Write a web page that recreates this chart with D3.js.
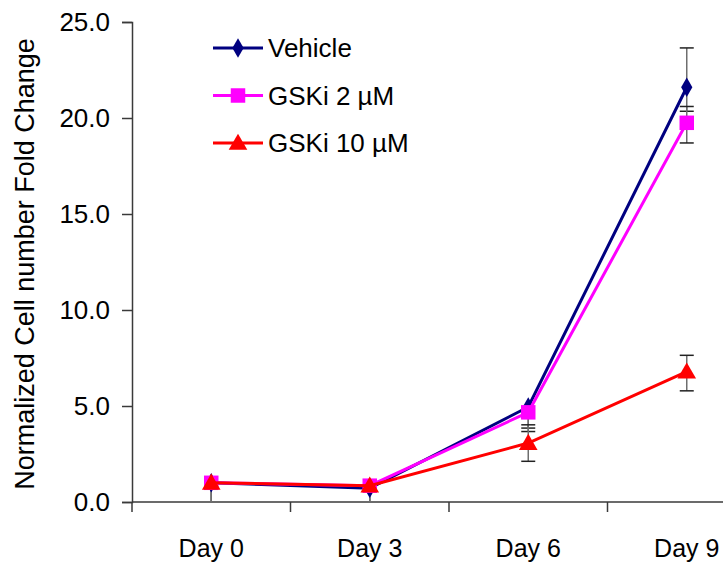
<!DOCTYPE html>
<html>
<head>
<meta charset="utf-8">
<script src="https://cdn.jsdelivr.net/npm/d3@7"></script>
<style>
  html, body { margin: 0; padding: 0; background: #fff; }
  svg { display: block; font-family: "Liberation Sans", Arial, sans-serif; }
</style>
</head>
<body>
<svg id="chart" width="723" height="565"></svg>
<script>
// Time points
const days = ["Day 0", "Day 3", "Day 6", "Day 9"];

// Mean fold change per treatment
const vehicle = [1.0, 0.72, 4.95, 21.6];
const gski2 = [1.0, 0.85, 4.67, 19.75];
const gski10 = [1.0, 0.85, 3.07, 6.79];

// Error bar extents (above / below the mean)
const vehicleErrUp = [0, 0, 0, 2.05];
const vehicleErrDown = [1.0, 0.72, 1.1, 1.25];
const gski2ErrUp = [0, 0, 0, 0.85];
const gski2ErrDown = [1.0, 0.85, 1.0, 1.05];
const gski10ErrUp = [0, 0, 0.95, 0.85];
const gski10ErrDown = [1.0, 0.85, 0.95, 1.0];

const yTicks = [0, 5, 10, 15, 20, 25];
const seriesNames = ["Vehicle", "GSKi 2 \u00b5M", "GSKi 10 \u00b5M"];

const series = [
  { name: seriesNames[0], values: vehicle, up: vehicleErrUp, down: vehicleErrDown, color: "#000080", symbol: d3.symbolDiamond, size: 110 },
  { name: seriesNames[1], values: gski2, up: gski2ErrUp, down: gski2ErrDown, color: "#FF00FF", symbol: d3.symbolSquare, size: 210 },
  { name: seriesNames[2], values: gski10, up: gski10ErrUp, down: gski10ErrDown, color: "#FF0000", symbol: d3.symbolTriangle, size: 150 }
];

const svg = d3.select("#chart");
const axisColor = "#3a3a3a";

const x = d3.scaleBand().domain(days).range([132, 766]).padding(0);
const y = d3.scaleLinear().domain([0, 25]).range([502, 22]);
const cx = d => x(d) + x.bandwidth() / 2;

// Y axis
const yAxis = svg.append("g").attr("transform", "translate(132,0)")
  .call(d3.axisLeft(y).tickValues(yTicks).tickFormat(d3.format(".1f")).tickSize(10).tickPadding(12));
yAxis.select(".domain").attr("stroke", axisColor).attr("stroke-width", 1.5);
yAxis.selectAll(".tick line").attr("stroke", axisColor).attr("stroke-width", 1.5);
yAxis.selectAll(".tick text").attr("font-size", 26).attr("fill", "#000")
  .attr("font-family", "'Liberation Sans', Arial, sans-serif");

// X axis with ticks between categories
const xg = svg.append("g").attr("transform", "translate(0,502)");
xg.append("line").attr("x1", 132).attr("x2", 766).attr("stroke", axisColor).attr("stroke-width", 1.5);
xg.selectAll("line.tk").data(days).join("line").attr("class", "tk")
  .attr("x1", d => x(d)).attr("x2", d => x(d)).attr("y1", 0).attr("y2", 10)
  .attr("stroke", axisColor).attr("stroke-width", 1.5);
xg.selectAll("text").data(days).join("text")
  .attr("x", d => cx(d)).attr("y", 55).attr("text-anchor", "middle")
  .attr("font-size", 25).attr("fill", "#000").text(d => d);

// Y axis title
svg.append("text")
  .attr("transform", `translate(34,${(22 + 502) / 2 + 2}) rotate(-90)`)
  .attr("text-anchor", "middle").attr("font-size", 27).attr("fill", "#000")
  .text("Normalized Cell number Fold Change");

// Error bars
const capW = 7;
series.forEach(s => {
  const g = svg.append("g");
  days.forEach((d, i) => {
    const top = s.values[i] + s.up[i];
    const bot = s.values[i] - s.down[i];
    const px = cx(d);
    g.append("line").attr("x1", px).attr("x2", px).attr("y1", y(top)).attr("y2", y(bot))
      .attr("stroke", "#6e6e6e").attr("stroke-width", 1.5);
    if (s.up[i] > 0) g.append("line").attr("x1", px - capW).attr("x2", px + capW)
      .attr("y1", y(top)).attr("y2", y(top)).attr("stroke", "#222").attr("stroke-width", 1.5);
    if (bot > 0) g.append("line").attr("x1", px - capW).attr("x2", px + capW)
      .attr("y1", y(bot)).attr("y2", y(bot)).attr("stroke", "#222").attr("stroke-width", 1.5);
  });
});

// Lines and markers
const line = d3.line().x((v, i) => cx(days[i])).y(v => y(v));
series.forEach(s => {
  svg.append("path").datum(s.values).attr("d", line)
    .attr("fill", "none").attr("stroke", s.color).attr("stroke-width", 3);
  svg.append("g").selectAll("path").data(s.values).join("path")
    .attr("transform", (v, i) => `translate(${cx(days[i])},${y(v) + (s.symbol === d3.symbolTriangle ? 1.5 : 0)})`)
    .attr("d", d3.symbol(s.symbol, s.size)).attr("fill", s.color);
});

// Legend
const legend = svg.append("g");
series.forEach((s, i) => {
  const ly = 48 + i * 47.5;
  legend.append("line").attr("x1", 213).attr("x2", 263).attr("y1", ly).attr("y2", ly)
    .attr("stroke", s.color).attr("stroke-width", 3);
  legend.append("path").attr("transform", `translate(238,${ly + (s.symbol === d3.symbolTriangle ? 1.5 : 0)})`)
    .attr("d", d3.symbol(s.symbol, s.size)).attr("fill", s.color);
  legend.append("text").attr("x", 268).attr("y", ly + 9).attr("font-size", 26).attr("fill", "#000").text(s.name);
});
</script>
</body>
</html>
